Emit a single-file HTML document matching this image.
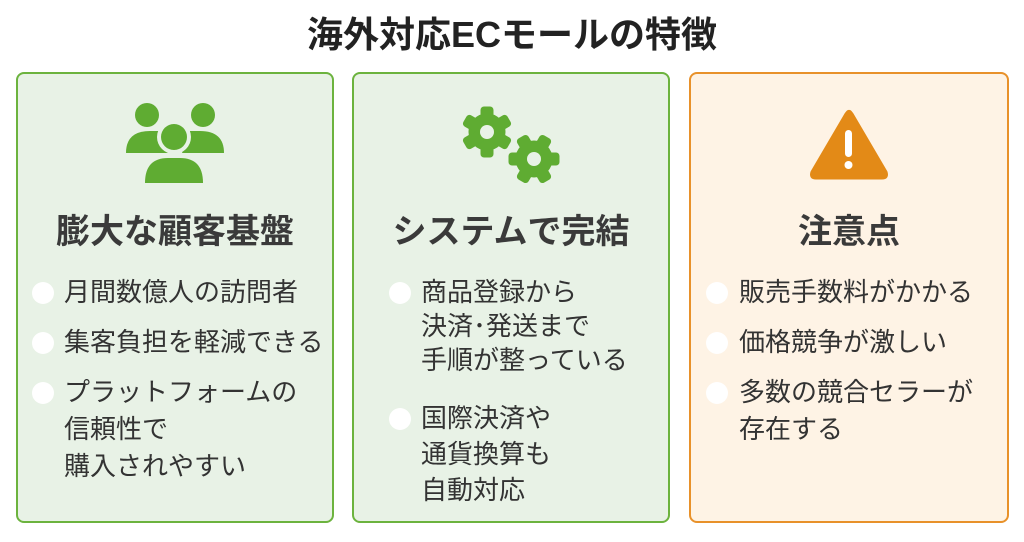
<!DOCTYPE html>
<html><head><meta charset="utf-8"><style>
body{margin:0;width:1024px;height:542px;background:#fff;position:relative;overflow:hidden;font-family:"Liberation Sans","Noto Sans CJK JP",sans-serif;color:#333}
.card{position:absolute;top:72px;height:451px;border-radius:8px;box-sizing:border-box}
.g{background:#e8f2e6;border:2px solid #6cb33e}
.o{background:#fef3e5;border:2px solid #e8912a}
.h{position:absolute;font-size:34px;font-weight:bold;text-align:center;width:318px;top:209px;color:#3a3a3a;line-height:46px}
.t{position:absolute;font-size:26px;line-height:37px;white-space:nowrap;color:#333;font-weight:400}
.b{position:absolute;width:22px;height:22px;border-radius:50%;background:#fff}
</style></head><body>
<div style="position:absolute;top:11px;width:1024px;text-align:center;font-size:36px;font-weight:bold;color:#222;line-height:48px">海外対応ECモールの特徴</div>
<div class="card g" style="left:16px;width:318px"></div>
<div class="card g" style="left:352px;width:318px"></div>
<div class="card o" style="left:689px;width:320px"></div>
<svg width="1024" height="542" style="position:absolute;left:0;top:0">
<g fill="#5fac32">
<circle cx="147" cy="115" r="12"/><circle cx="203" cy="115" r="12"/>
<path d="M126 153 Q126 131 150 131 L160 131 L168 153 Z"/><path d="M224 153 Q224 131 200 131 L190 131 L182 153 Z"/>
<circle cx="174" cy="137" r="17" fill="#e8f2e6"/>
<circle cx="174" cy="137" r="13"/>
<path d="M145 183 Q145 158 168 158 L180 158 Q203 158 203 183 Z"/>
</g>
<g fill="#5fac32" stroke="#5fac32" stroke-width="1" stroke-linejoin="round">
<g transform="translate(487,132)"><circle r="18"/>
<rect x="-6" y="-25" width="12" height="50" rx="3"/><rect x="-6" y="-25" width="12" height="50" rx="3" transform="rotate(60)"/><rect x="-6" y="-25" width="12" height="50" rx="3" transform="rotate(120)"/></g>
<g transform="translate(534,159)"><circle r="18"/>
<rect x="-6" y="-25" width="12" height="50" rx="3" transform="rotate(30)"/><rect x="-6" y="-25" width="12" height="50" rx="3" transform="rotate(90)"/><rect x="-6" y="-25" width="12" height="50" rx="3" transform="rotate(150)"/></g>
</g>
<circle cx="487" cy="132" r="7" fill="#e8f2e6"/><circle cx="534" cy="159" r="7" fill="#e8f2e6"/>
<path d="M849 112 Q849 110 852 114 L886 172 Q888 178 882 178 L816 178 Q810 178 812 172 L846 114 Q849 110 849 112 Z" fill="#e38a17" stroke="#e38a17" stroke-width="3" stroke-linejoin="round"/>
<rect x="845" y="130" width="7" height="27" rx="3.5" fill="#fff"/><circle cx="848.5" cy="165" r="4" fill="#fff"/>
</svg>
<div class="h" style="left:16px">膨大な顧客基盤</div>
<div class="h" style="left:352px">システムで完結</div>
<div class="h" style="left:689px;width:320px">注意点</div>

<div class="b" style="left:32px;top:282px"></div><div class="t" style="left:64px;top:274px">月間数億人の訪問者</div>
<div class="b" style="left:32px;top:332px"></div><div class="t" style="left:64px;top:324px">集客負担を軽減できる</div>
<div class="b" style="left:32px;top:382px"></div><div class="t" style="left:64px;top:374px">プラットフォームの<br>信頼性で<br>購入されやすい</div>

<div class="b" style="left:389px;top:282px"></div><div class="t" style="left:421px;top:275px;line-height:34px">商品登録から<br>決済･発送まで<br>手順が整っている</div>
<div class="b" style="left:389px;top:408px"></div><div class="t" style="left:421px;top:400px;line-height:36px">国際決済や<br>通貨換算も<br>自動対応</div>

<div class="b" style="left:706px;top:282px"></div><div class="t" style="left:739px;top:274px">販売手数料がかかる</div>
<div class="b" style="left:706px;top:332px"></div><div class="t" style="left:739px;top:324px">価格競争が激しい</div>
<div class="b" style="left:706px;top:382px"></div><div class="t" style="left:739px;top:374px">多数の競合セラーが<br>存在する</div>
</body></html>
